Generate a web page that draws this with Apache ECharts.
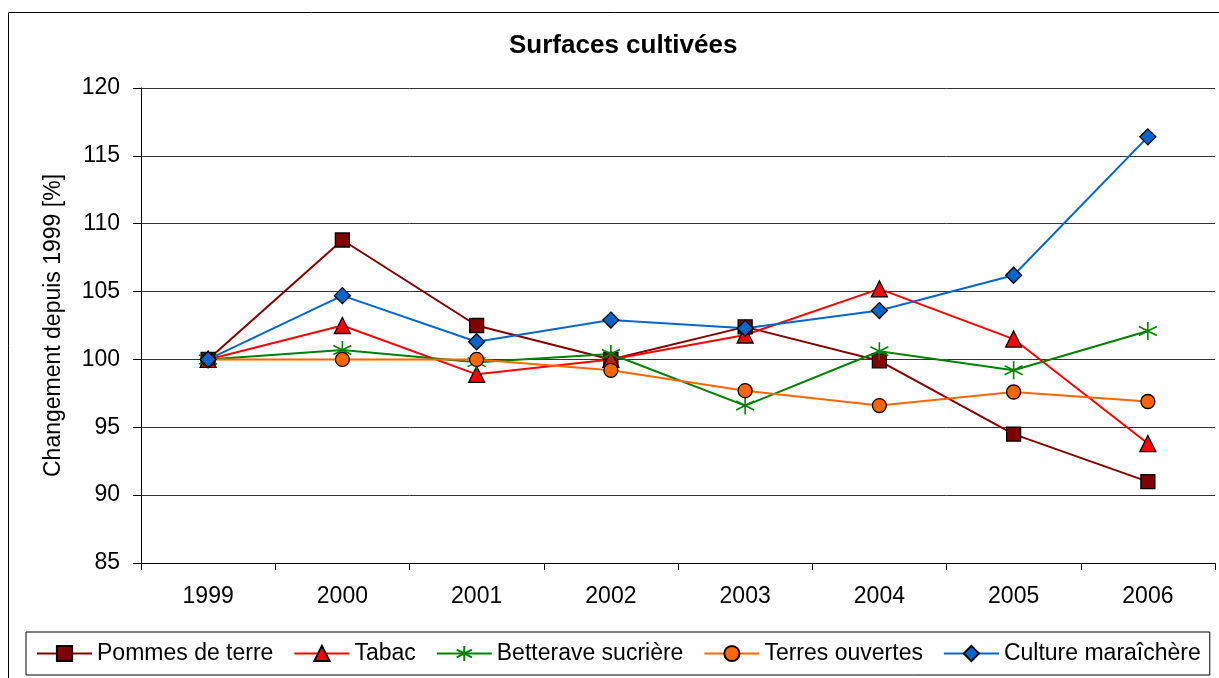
<!DOCTYPE html>
<html><head><meta charset="utf-8">
<script src="https://cdn.jsdelivr.net/npm/echarts@6/dist/echarts.min.js"></script>
<style>html,body{margin:0;padding:0;background:#fff}#c{width:1219px;height:678px}</style>
</head><body><div id="c"></div>
<script>
const years = ['1999','2000','2001','2002','2003','2004','2005','2006'];
const pommes = [100, 108.8, 102.5, 100.0, 102.4, 99.9, 94.5, 91.0];
const tabac = [100, 102.5, 98.9, 100.0, 101.8, 105.2, 101.5, 93.8];
const betterave = [100, 100.7, 99.8, 100.4, 96.6, 100.6, 99.2, 102.1];
const terres = [100, 100.0, 100.0, 99.2, 97.7, 96.6, 97.6, 96.9];
const culture = [100, 104.7, 101.3, 102.9, 102.3, 103.6, 106.2, 116.4];
const yTicks = {min: 85, max: 120, interval: 5};

const FONT = 'Liberation Sans, Arial, sans-serif';
const asterisk = 'path://M0,-10L0,10M-8.66,-5L8.66,5M-8.66,5L8.66,-5';
function ser(name, data, color, symbol, size, fill, border, bw) {
  return {
    name, type: 'line', data, symbol, symbolSize: size,
    lineStyle: {color, width: 2},
    itemStyle: {color: fill, borderColor: border, borderWidth: bw},
    emphasis: {disabled: true}, z: 3
  };
}
const chart = echarts.init(document.getElementById('c'));
chart.setOption({
  animation: false,
  backgroundColor: '#fff',
  title: {text: 'Surfaces cultivées', left: 504, top: 28,
    textStyle: {fontFamily: FONT, fontSize: 26, fontWeight: 'bold', color: '#000'}},
  graphic: [{type: 'rect', shape: {x: 8.5, y: 12.5, width: 1220, height: 680},
    style: {fill: 'none', stroke: '#000', lineWidth: 1}, z: -1}],
  grid: {left: 141, right: 4, top: 88, bottom: 115},
  legend: {
    left: 26, top: 632, padding: [10, 9, 10, 10],
    borderColor: '#000', borderWidth: 1, itemWidth: 55, itemHeight: 19, itemGap: 20,
    textStyle: {fontFamily: FONT, fontSize: 23, color: '#000'},
    data: ['Pommes de terre', 'Tabac', 'Betterave sucrière', 'Terres ouvertes', 'Culture maraîchère']
  },
  xAxis: {
    type: 'category', data: years, boundaryGap: true,
    axisLine: {lineStyle: {color: '#000', width: 1}},
    axisTick: {show: true, length: 7, inside: false, lineStyle: {color: '#000'}},
    axisLabel: {fontFamily: FONT, fontSize: 23, color: '#000', margin: 22},
    splitLine: {show: false}
  },
  yAxis: {
    type: 'value', min: yTicks.min, max: yTicks.max, interval: yTicks.interval,
    name: 'Changement depuis 1999 [%]', nameLocation: 'middle', nameGap: 76,
    nameTextStyle: {fontFamily: FONT, fontSize: 23, color: '#000'},
    axisLine: {show: true, lineStyle: {color: '#000', width: 1}},
    axisTick: {show: true, length: 8, lineStyle: {color: '#000'}},
    axisLabel: {fontFamily: FONT, fontSize: 23, color: '#000', margin: 21},
    splitLine: {show: true, lineStyle: {color: '#333', width: 1}}
  },
  series: [
    ser('Pommes de terre', pommes, '#800000', 'rect', 14, '#800000', '#000', 1.3),
    ser('Tabac', tabac, '#FF0000', 'triangle', 16, '#FF0000', '#000', 1.3),
    ser('Betterave sucrière', betterave, '#008000', asterisk, 18, '#008000', '#008000', 1.6),
    ser('Terres ouvertes', terres, '#FF6600', 'circle', 14, '#FF6600', '#000', 1.3),
    ser('Culture maraîchère', culture, '#0066CC', 'diamond', 16, '#0066CC', '#000', 1.3)
  ]
});
</script></body></html>
